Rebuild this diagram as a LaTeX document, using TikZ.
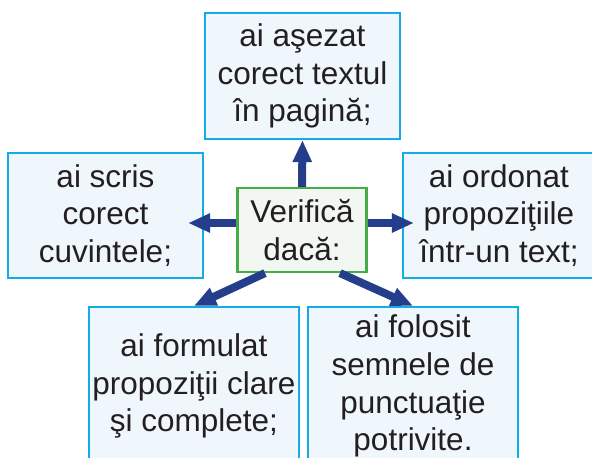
\documentclass[tikz,border=0pt]{standalone}
\usepackage{fontspec}
\setmainfont{Liberation Sans}
\usetikzlibrary{arrows.meta,calc}
\definecolor{boxline}{RGB}{20,172,232}
\definecolor{boxfill}{RGB}{239,247,253}
\definecolor{gline}{RGB}{70,172,72}
\definecolor{gfill}{RGB}{242,247,241}
\definecolor{arrowc}{RGB}{36,62,140}
\definecolor{txt}{RGB}{35,31,32}
\tikzset{
  itembox/.style={draw=boxline, fill=boxfill, line width=2.2pt, align=center, inner sep=0pt,
    text=txt, font=\fontsize{31.5}{37.8}\selectfont},
  centerbox/.style={draw=gline, fill=gfill, line width=2.2pt, align=center, inner sep=0pt,
    text=txt, font=\fontsize{31.5}{37.8}\selectfont},
  arr/.style={draw=arrowc, line width=8pt, -{Triangle[length=22pt,width=18pt]}}
}
\begin{document}
\begin{tikzpicture}[x=1pt,y=-1pt]
\useasboundingbox (0,0) rectangle (592,458);
\clip (0,0) rectangle (592,458);
\node[itembox, minimum width=195pt, minimum height=126pt] (top) at (302.5,76) {ai aşezat\\corect textul\\în pagină;};
\node[itembox, minimum width=195pt, minimum height=125pt] (left) at (105.5,215.5) {ai scris\\corect\\cuvintele;};
\node[itembox, minimum width=192pt, minimum height=125pt] (right) at (499,215.5) {ai ordonat\\propoziţiile\\într-un text;};
\node[itembox, minimum width=210pt, minimum height=158pt] (bl) at (194,386) {ai formulat\\propoziţii clare\\şi complete;};
\node[itembox, minimum width=210pt, minimum height=158pt] (br) at (413,386) {ai folosit\\semnele de\\punctuaţie\\potrivite.};
\node[centerbox, minimum width=129pt, minimum height=84pt] (c) at (302,230) {Verifică\\dacă:};
\coordinate (lw) at ([yshift=7pt]c.west);
\coordinate (re) at ([yshift=7pt]c.east);
\draw[arr] (c.north) -- (top.south);
\draw[arr, shorten >=-16pt] (lw) -- (lw -| left.east);
\draw[arr, shorten >=-12pt] (re) -- (re -| right.west);
\draw[arr] ([xshift=-37pt]c.south) -- (bl.north);
\draw[arr] ([xshift=38pt]c.south) -- (br.north);
\end{tikzpicture}
\end{document}
